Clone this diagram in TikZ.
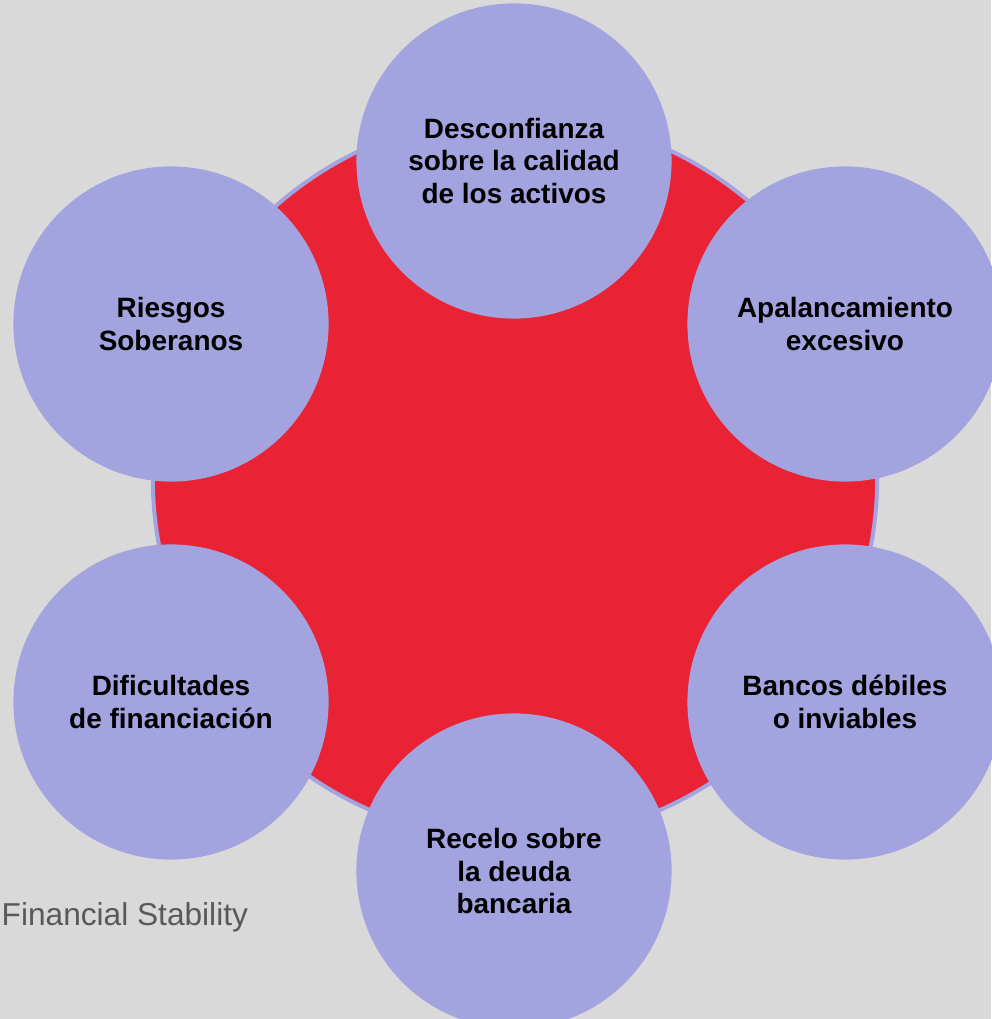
\documentclass[tikz,border=0pt]{standalone}
\usepackage{fontspec}
\setmainfont{Liberation Sans}
\definecolor{paper}{HTML}{D9D9D9}
\definecolor{lavender}{HTML}{A3A3DF}
\definecolor{riskred}{HTML}{E92334}
\definecolor{notegray}{HTML}{595959}
\tikzset{
  hub/.style={circle, fill=riskred, draw=lavender, line width=0.04cm, inner sep=0pt},
  bubble/.style={circle, fill=lavender, inner sep=0pt, minimum size=3.15cm,
    align=center, font=\fontsize{7.95}{9.3}\selectfont\bfseries},
}

\begin{document}
\begin{tikzpicture}[x=0.01cm, y=-0.01cm]
\useasboundingbox (0, 0) rectangle (991, 1019);
\fill[paper] (0, 0) rectangle (991, 1019);
%Ring in the middle
\node[hub, minimum size=7.24cm] (core) at (515, 478) {};
%Six causes around it
\node[bubble] (assets) at (514, 161) {Desconfianza\\sobre la calidad\\de los activos};
\node[bubble] (leverage) at (845, 324) {Apalancamiento\\excesivo};
\node[bubble] (banks) at (845, 702) {Bancos d\'ebiles\\o inviables};
\node[bubble] (debt) at (514, 871) {Recelo sobre\\la deuda\\bancaria};
\node[bubble] (funding) at (171, 702) {Dificultades\\de financiaci\'on};
\node[bubble] (sovereign) at (171, 324) {Riesgos\\Soberanos};
%Source line
\node[anchor=base west, inner sep=0pt, text=notegray, font=\fontsize{9}{11}\selectfont] (source) at (1, 925) {Financial Stability};
\end{tikzpicture}
\end{document}
